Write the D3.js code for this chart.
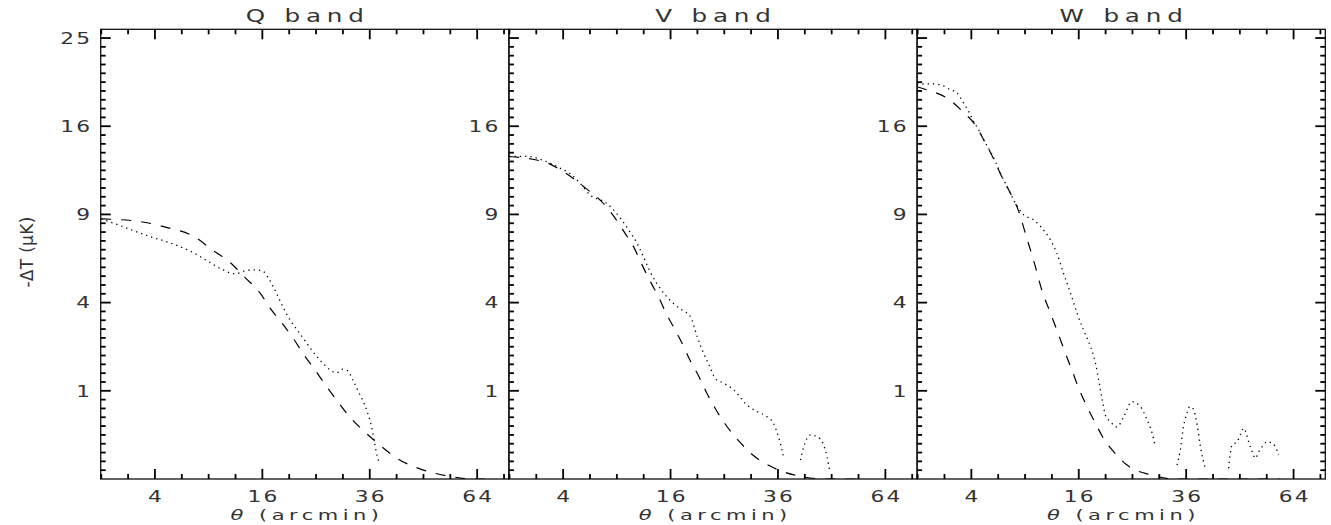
<!DOCTYPE html>
<html>
<head>
<meta charset="utf-8">
<script src="https://cdn.jsdelivr.net/npm/d3@7"></script>
<style>
  html, body { margin: 0; padding: 0; background: #fff; }
  svg { display: block; }
  text { font-family: "DejaVu Sans", "Liberation Sans", sans-serif; fill: #333; }
</style>
</head>
<body>
<svg id="chart" width="1331" height="525"></svg>
<script>
// Radial temperature decrement profiles, -ΔT(θ), in three WMAP bands.
// Dashed: beam-convolved model; dotted: measured profile. Both axes are square-root scaled.

const bandNames = ["Q band", "V band", "W band"];
const thetaTickValues = [4, 16, 36, 64];
const thetaTickLabels = ["4", "16", "36", "64"];
const dTTickValues = [1, 4, 9, 16, 25];
const dTTickLabels = [
  ["1", "4", "9", "16", "25"],
  ["1", "4", "9", "16", ""],
  ["1", "4", "9", "16", ""]
];

// [theta (arcmin), -ΔT (μK)]; null marks where the profile drops below zero.
const qModel = [
  [1.0, 8.70], [2.9, 8.53], [4.9, 8.14], [7.5, 7.54], [9.4, 6.75], [11.6, 6.01],
  [13.5, 5.23], [15.7, 4.43], [17.2, 3.74], [19.1, 3.11], [21.0, 2.52], [22.8, 1.98],
  [24.8, 1.53], [27.0, 1.10], [29.2, 0.77], [31.6, 0.50], [34.6, 0.30], [38.2, 0.15],
  [42.4, 0.054], [48.4, 0.012], [55.9, 0.001], [63.0, 0], [66.6, 0]
];
const qData = [
  [1.0, 8.70], [1.86, 8.24], [2.58, 7.92], [3.69, 7.54], [4.83, 7.26], [6.13, 6.93],
  [7.58, 6.52], [9.19, 6.01], [10.7, 5.62], [12.2, 5.41], [13.5, 5.57], [14.7, 5.62],
  [16.0, 5.57], [16.9, 5.20], [17.9, 4.60], [19.2, 3.82], [20.4, 3.25], [21.6, 2.86],
  [23.3, 2.37], [24.4, 2.09], [26.3, 1.72], [29.0, 1.45], [30.2, 1.55], [31.2, 1.51],
  [32.3, 1.26], [33.7, 0.945], [35.3, 0.613], [36.4, 0.352], [37.1, 0.164],
  [37.7, 0.064], [38.2, 0.032]
];

const vModel = [
  [0.99, 13.37], [2.75, 12.91], [4.32, 11.94], [5.87, 10.86], [7.36, 9.91], [8.63, 8.90],
  [9.87, 7.82], [11.1, 6.81], [12.1, 5.84], [13.2, 4.97], [14.4, 4.17], [15.4, 3.50],
  [16.6, 2.90], [17.8, 2.35], [19.1, 1.79], [20.5, 1.35], [21.8, 0.963], [23.4, 0.631],
  [25.3, 0.375], [27.6, 0.196], [30.6, 0.074], [34.9, 0.017], [40.2, 0.0016],
  [47.6, 0], [57.0, 0]
];
const vData = [
  [0.99, 13.37], [1.70, 13.39], [3.07, 12.83], [3.76, 12.43], [4.65, 11.90], [5.35, 11.26],
  [6.24, 10.38], [7.89, 9.78], [8.79, 9.20], [9.55, 8.63], [10.5, 7.87], [11.4, 7.15],
  [12.2, 6.36], [13.1, 5.53], [14.0, 4.93], [15.0, 4.44], [16.4, 3.97], [17.7, 3.68],
  [19.1, 3.39], [20.2, 2.61], [21.3, 2.03], [22.4, 1.62], [23.3, 1.31], [24.9, 1.18],
  [26.8, 1.02], [29.4, 0.705], [31.5, 0.583], [33.6, 0.500], [35.0, 0.399], [36.1, 0.230],
  [36.9, 0.108], [37.3, 0.055], [39.0, null],
  [41.2, 0.046], [42.0, 0.134], [43.6, 0.249], [45.3, 0.230], [46.9, 0.149],
  [47.8, 0.064], [48.5, 0.007]
];

const wModel = [
  [0.98, 19.78], [1.37, 19.48], [2.39, 18.66], [3.50, 17.20], [4.23, 16.22], [5.11, 14.53],
  [5.83, 13.18], [6.50, 11.90], [7.35, 10.62], [8.21, 9.38], [9.20, 7.45], [10.1, 5.95],
  [11.0, 4.55], [12.0, 3.59], [13.0, 2.78], [14.0, 2.08], [15.1, 1.47], [16.1, 1.02],
  [17.2, 0.686], [18.6, 0.397], [19.9, 0.211], [21.6, 0.097], [24.0, 0.025],
  [28.7, 0.002], [33.6, 0], [39.2, 0], [60.0, 0]
];
const wData = [
  [0.98, 20.08], [1.53, 20.08], [2.03, 19.98], [2.59, 19.48], [3.01, 19.15], [3.45, 18.17],
  [3.80, 17.37], [4.17, 16.43], [4.56, 15.68], [4.97, 14.79], [5.54, 13.79], [5.99, 12.96],
  [6.45, 12.03], [7.10, 11.00], [7.95, 9.78], [8.85, 8.97], [9.99, 8.63], [11.0, 8.09],
  [12.05, 7.35], [12.9, 6.56], [13.8, 5.45], [14.8, 4.44], [15.75, 3.53], [16.7, 2.86],
  [17.8, 2.25], [18.6, 1.72], [19.1, 1.26], [19.7, 0.803], [20.2, 0.527], [21.05, 0.423],
  [22.2, 0.348], [23.4, 0.500], [24.9, 0.769], [26.5, 0.673], [27.8, 0.448], [28.8, 0.269],
  [29.45, 0.134], [31.5, null],
  [34.0, 0.025], [34.7, 0.108], [35.4, 0.352], [36.2, 0.561], [36.8, 0.673], [37.6, 0.631],
  [38.5, 0.375], [39.2, 0.149], [39.9, 0.046], [40.4, 0.0147], [43.0, null],
  [46.1, 0.0147], [47.0, 0.149], [48.3, 0.179], [49.1, 0.249], [50.0, 0.331], [50.7, 0.261],
  [51.3, 0.179], [52.3, 0.094], [53.1, 0.055], [54.0, 0.094], [55.0, 0.134], [56.35, 0.179],
  [57.6, 0.167], [58.7, 0.134], [59.6, 0.074]
];

const modelSeries = [qModel, vModel, wModel];
const dataSeries = [qData, vData, wData];

// ---- layout ----
const plotTop = 29.3, plotBottom = 479;
const firstLeft = 100.7, panelWidth = 408.2;
const thetaDomain = [0.98, 73.8];
const dTDomain = [0, 26];

const svg = d3.select("#chart");
const defs = svg.append("defs");

const y = d3.scaleSqrt().domain(dTDomain).range([plotBottom, plotTop]);

// minor ticks: every 0.5 in sqrt(θ), every 0.1 in sqrt(-ΔT)
const thetaMinor = d3.range(1, 8.51, 0.5)
  .filter(s => Math.abs(s - Math.round(s / 2) * 2) > 1e-6)
  .map(s => s * s);
const dTMinor = d3.range(1, 51)
  .filter(k => k % 10 !== 0)
  .map(k => (k / 10) * (k / 10))
  .filter(v => v <= dTDomain[1]);

// text drawn with a horizontal stretch (wide stroke-font look)
function stretchedText(g, str, x, yy, o) {
  return g.append("text")
    .attr("transform", `translate(${x},${yy}) scale(${o.sx},1)`)
    .attr("text-anchor", o.anchor || "middle")
    .style("font-size", o.size + "px")
    .style("letter-spacing", (o.ls || 0) + "px")
    .text(str);
}

const MAJOR = 10, MINOR = 5;

// Tick marks collected for all panels, drawn last on top of everything.
const tickSegments = [];
function addXTicks(scale, values, y0, len, dir) {
  values.forEach(v => tickSegments.push({ x1: scale(v), y1: y0, x2: scale(v), y2: y0 + dir * len }));
}
function addYTicks(scale, values, x0, len, dir) {
  values.forEach(v => tickSegments.push({ x1: x0, y1: scale(v), x2: x0 + dir * len, y2: scale(v) }));
}

bandNames.forEach((name, i) => {
  const left = firstLeft + i * panelWidth;
  const right = left + panelWidth;
  const x = d3.scaleSqrt().domain(thetaDomain).range([left, right]);
  const g = svg.append("g");

  defs.append("clipPath").attr("id", "clip" + i)
    .append("rect")
    .attr("x", left).attr("y", plotTop)
    .attr("width", panelWidth).attr("height", plotBottom - plotTop);

  // curves
  const line = d3.line()
    .defined(d => d[1] != null)
    .x(d => x(d[0]))
    .y(d => y(d[1]))
    .curve(d3.curveMonotoneX);

  const curves = g.append("g").attr("clip-path", `url(#clip${i})`);
  curves.append("path")
    .datum(modelSeries[i])
    .attr("d", line)
    .attr("fill", "none")
    .attr("stroke", "#000")
    .attr("stroke-width", 1.2)
    .attr("stroke-dasharray", "10,10");
  curves.append("path")
    .datum(dataSeries[i])
    .attr("d", line)
    .attr("fill", "none")
    .attr("stroke", "#000")
    .attr("stroke-width", 1.3)
    .attr("stroke-dasharray", "1.3,4");

  // frame
  g.append("rect")
    .attr("x", left).attr("y", plotTop)
    .attr("width", panelWidth).attr("height", plotBottom - plotTop)
    .attr("fill", "none").attr("stroke", "#111").attr("stroke-width", 1.3);

  // ticks (all pointing into the panel)
  addXTicks(x, thetaTickValues, plotBottom, MAJOR, -1);
  addXTicks(x, thetaMinor, plotBottom, MINOR, -1);
  addXTicks(x, thetaTickValues, plotTop, MAJOR, 1);
  addXTicks(x, thetaMinor, plotTop, MINOR, 1);
  addYTicks(y, dTTickValues, left, MAJOR, 1);
  addYTicks(y, dTMinor, left, MINOR, 1);
  if (i === bandNames.length - 1) {
    addYTicks(y, dTTickValues, right, MAJOR, -1);
    addYTicks(y, dTMinor, right, MINOR, -1);
  }

  // tick labels
  const tickFont = { size: 15, sx: 1.45, ls: 1.5 };
  thetaTickValues.forEach((v, k) => {
    stretchedText(g, thetaTickLabels[k], x(v) + tickFont.ls * tickFont.sx / 2, 501.7,
      Object.assign({ anchor: "middle" }, tickFont));
  });
  dTTickValues.forEach((v, k) => {
    const lab = dTTickLabels[i][k];
    if (!lab) return;
    stretchedText(g, lab, left - 10.5 + tickFont.ls * tickFont.sx, y(v) + 5.8,
      Object.assign({ anchor: "end" }, tickFont));
  });

  // panel title
  const cx = (left + right) / 2;
  stretchedText(g, name, cx + 2.9, 21.7, { size: 17, sx: 1.45, ls: 4, anchor: "middle" });

  // x axis title
  const xt = g.append("text")
    .attr("transform", `translate(${cx + 2.2},520) scale(1.5,1)`)
    .attr("text-anchor", "middle")
    .style("font-size", "14px")
    .style("letter-spacing", "3px");
  xt.append("tspan").style("font-style", "italic").text("θ");
  xt.append("tspan").text(" (arcmin)");
});

// y axis title
svg.append("text")
  .attr("transform", "translate(33,252) rotate(-90)")
  .attr("text-anchor", "middle")
  .style("font-size", "17px")
  .style("letter-spacing", "0.3px")
  .text("-ΔT (μK)");

// all tick marks, on top
svg.append("g").attr("class", "ticks")
  .selectAll("line").data(tickSegments).join("line")
  .attr("x1", d => d.x1).attr("y1", d => d.y1)
  .attr("x2", d => d.x2).attr("y2", d => d.y2)
  .style("stroke", "#000")
  .style("stroke-width", "1.8px");
</script>
</body>
</html>
